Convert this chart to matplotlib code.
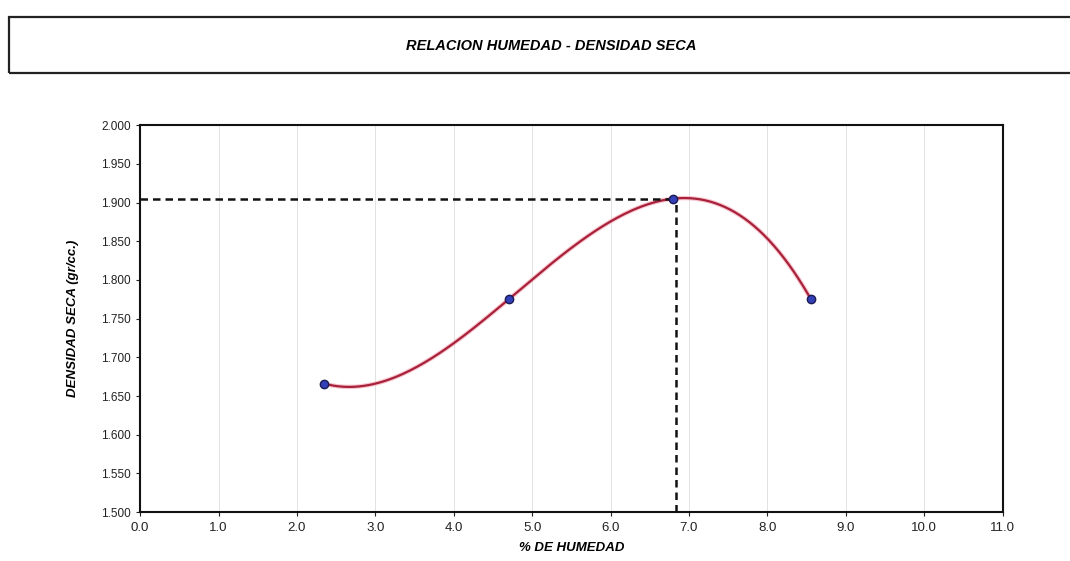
import numpy as np
import matplotlib.pyplot as plt
from matplotlib.patches import Rectangle

# ensayo proctor: humedad (%) vs densidad seca (gr/cc)
humedad = [2.35, 4.70, 6.80, 8.55]
densidad = [1.666, 1.775, 1.905, 1.776]

# optimo
hum_optima = 6.84
dens_maxima = 1.905

x_ticks = np.arange(0, 11.5, 1.0)
y_ticks = np.arange(1.50, 2.001, 0.05)

title_text = "RELACION HUMEDAD - DENSIDAD SECA"
xlabel_text = "% DE HUMEDAD"
ylabel_text = "DENSIDAD SECA (gr/cc.)"

narrow = ['Liberation Sans Narrow', 'Liberation Sans', 'DejaVu Sans']

fig = plt.figure(figsize=(10.7, 5.61), dpi=100)
fig.patch.set_facecolor('white')

# caja del titulo
box = Rectangle((0.008, 0.87), 1.1, 0.10, transform=fig.transFigure,
                fill=False, edgecolor='#222222', linewidth=1.6)
fig.patches.append(box)
fig.text(0.515, 0.918, title_text, ha='center', va='center',
         fontsize=10.5, fontweight='bold', fontstyle='italic', family=narrow)

ax = fig.add_axes([0.131, 0.087, 0.806, 0.69])

# curva de ajuste (polinomio cubico como la linea de tendencia original)
coef = np.polyfit(humedad, densidad, 3)
xs = np.linspace(humedad[0], humedad[-1], 200)
ax.plot(xs, np.polyval(coef, xs), color='#f4a0b0', linewidth=3.2, alpha=0.6, zorder=3)
ax.plot(xs, np.polyval(coef, xs), color='#a8213a', linewidth=1.6, zorder=4)

ax.plot(humedad, densidad, linestyle='none', marker='o', markersize=6,
        markerfacecolor='#3340b8', markeredgecolor='#1a1a55', markeredgewidth=1.0, zorder=5)

# lineas del optimo
ax.plot([0, hum_optima], [dens_maxima, dens_maxima], color='#111111',
        linestyle=(0, (3, 2)), linewidth=1.8, zorder=4)
ax.plot([hum_optima, hum_optima], [1.5, dens_maxima], color='#111111',
        linestyle=(0, (3, 2)), linewidth=1.8, zorder=4)

ax.set_xlim(0, 11)
ax.set_ylim(1.5, 2.0)
ax.set_xticks(x_ticks)
ax.set_yticks(y_ticks)
ax.set_xticklabels([f"{v:.1f}" for v in x_ticks], family=narrow, fontsize=9.5)
ax.set_yticklabels([f"{v:.3f}" for v in y_ticks], family=narrow, fontsize=8.5)
ax.tick_params(axis='both', direction='out', length=3, width=0.8, colors='#222222')
ax.tick_params(axis='x', pad=4)

ax.grid(axis='x', color='#e2e2e2', linewidth=0.7)
ax.set_axisbelow(True)
for s in ax.spines.values():
    s.set_linewidth(1.5)
    s.set_color('#111111')

ax.set_xlabel(xlabel_text, fontsize=9.5, fontweight='bold', fontstyle='italic',
              family=narrow, labelpad=6)
ax.set_ylabel(ylabel_text, fontsize=9.5, fontweight='bold', fontstyle='italic',
              family=narrow, labelpad=16)

plt.savefig('out.png', dpi=100)
